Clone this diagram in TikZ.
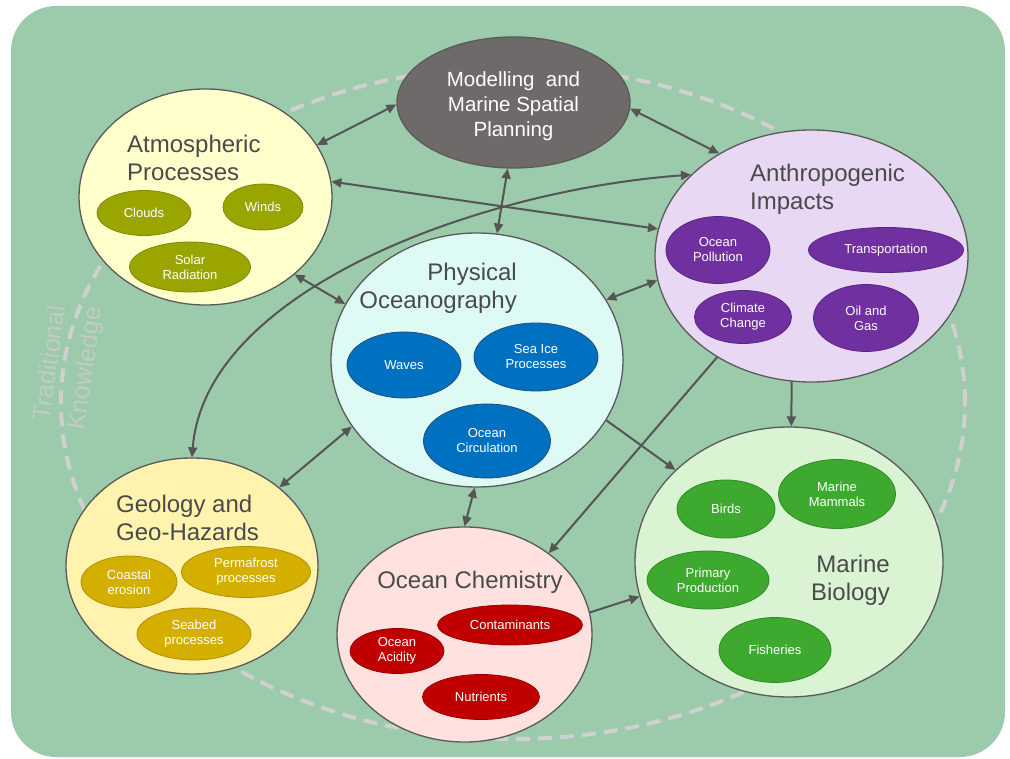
\documentclass[tikz,border=0pt]{standalone}
\usepackage{fontspec}
\setmainfont{Liberation Sans}
\usetikzlibrary{arrows.meta,shapes.geometric}

\definecolor{bggreen}{HTML}{9BCBAB}
\definecolor{dashgray}{HTML}{D0D0D0}
\definecolor{tkgray}{HTML}{C2CBC4}
\definecolor{linegray}{HTML}{5A5A5A}
\definecolor{linkgray}{HTML}{555555}
\definecolor{titlegray}{HTML}{4A4A4A}
\definecolor{modelfill}{HTML}{6F6A6A}
\definecolor{atmofill}{HTML}{FFFFCC}
\definecolor{anthrofill}{HTML}{E8D8F3}
\definecolor{physfill}{HTML}{DDFBF4}
\definecolor{geofill}{HTML}{FFF3AE}
\definecolor{chemfill}{HTML}{FFE2E0}
\definecolor{biofill}{HTML}{D9F3D3}
\definecolor{olivefill}{HTML}{9AA500}
\definecolor{olivedraw}{HTML}{7F8900}
\definecolor{purplefill}{HTML}{7030A0}
\definecolor{purpledraw}{HTML}{5B2585}
\definecolor{bluefill}{HTML}{0070C0}
\definecolor{bluedraw}{HTML}{1F4E79}
\definecolor{goldfill}{HTML}{D4AF00}
\definecolor{golddraw}{HTML}{B09000}
\definecolor{redfill}{HTML}{C00000}
\definecolor{reddraw}{HTML}{9A0000}
\definecolor{greenfill}{HTML}{3DAA2F}
\definecolor{greendraw}{HTML}{2F8A24}

\begin{document}
\begin{tikzpicture}[
  x=1pt, y=-1pt,
  >={Triangle[length=10pt,width=9pt]},
  topic/.style={ellipse, draw=linegray, line width=1.3pt, inner sep=0pt},
  heading/.style={inner sep=0pt, text=titlegray, font=\fontsize{24}{27.5}\selectfont},
  item/.style={ellipse, inner sep=0pt, line width=0.8pt, text=white, align=center,
    font=\fontsize{13}{15}\selectfont},
  olivebox/.style={item, fill=olivefill, draw=olivedraw},
  purplebox/.style={item, fill=purplefill, draw=purpledraw},
  bluebox/.style={item, fill=bluefill, draw=bluedraw},
  goldbox/.style={item, fill=goldfill, draw=golddraw},
  redbox/.style={item, fill=redfill, draw=reddraw},
  greenbox/.style={item, fill=greenfill, draw=greendraw},
  link/.style={draw=linkgray, line width=2pt}
  ]

\useasboundingbox (0,0) rectangle (1010,759);
\fill[white] (0,0) rectangle (1010,759);
\fill[bggreen, rounded corners=45pt] (11,6) rectangle (1005,757);

% traditional knowledge ring
\draw[dashgray, line width=4pt, dash pattern=on 14pt off 8pt]
  (513,403) ellipse [x radius=452pt, y radius=336pt];
\node[text=tkgray, align=center, rotate=82, inner sep=0pt,
  font=\fontsize{25}{36}\selectfont] (tk) at (69,366) {Traditional\\Knowledge};

% main topics
\node[topic, fill=modelfill, minimum width=233pt, minimum height=131pt] (model) at (513.5,102.5) {};
\node[topic, fill=atmofill, minimum width=253pt, minimum height=216pt] (atmo) at (205.5,197) {};
\node[topic, fill=anthrofill, minimum width=313pt, minimum height=252pt] (anthro) at (811.5,256) {};
\node[topic, fill=physfill, minimum width=292pt, minimum height=254pt] (phys) at (477,360) {};
\node[topic, fill=geofill, minimum width=252pt, minimum height=216pt] (geo) at (192,566) {};
\node[topic, fill=chemfill, minimum width=255pt, minimum height=215pt] (chem) at (464.5,634.5) {};
\node[topic, fill=biofill, minimum width=308pt, minimum height=270pt] (bio) at (789,562) {};

% headings
\node[inner sep=0pt, text=white, align=center, font=\fontsize{20.5}{25}\selectfont]
  (modelT) at (513.5,106.5) {Modelling\ \ and\\Marine Spatial\\Planning};
\node[heading, anchor=west, align=left] (atmoT) at (127,158) {Atmospheric\\Processes};
\node[heading, anchor=west, align=left] (anthroT) at (750,189.5) {Anthropogenic\\Impacts};
\node[heading, anchor=east, align=right] (physT) at (517,288.5) {Physical\\Oceanography};
\node[heading, anchor=west, align=left] (geoT) at (116,518) {Geology and\\Geo-Hazards};
\node[heading] (chemT) at (470,582) {Ocean Chemistry};
\node[heading, anchor=east, align=right] (bioT) at (890,580.5) {Marine\\Biology};

% atmosphere
\node[olivebox, minimum width=94pt, minimum height=45pt] (clouds) at (144,213) {Clouds};
\node[olivebox, minimum width=80pt, minimum height=46pt] (winds) at (263,207) {Winds};
\node[olivebox, minimum width=121pt, minimum height=50pt] (solar) at (190,267) {Solar\\Radiation};

% human impacts
\node[purplebox, minimum width=104pt, minimum height=67pt] (pollution) at (718,250) {Ocean\\Pollution};
\node[purplebox, minimum width=155pt, minimum height=45pt] (transport) at (886,250) {Transportation};
\node[purplebox, minimum width=97pt, minimum height=53pt] (climate) at (743,317) {Climate\\Change};
\node[purplebox, minimum width=105pt, minimum height=67pt] (oilgas) at (866,318) {Oil and\\Gas};

% physics
\node[bluebox, minimum width=114pt, minimum height=66pt] (waves) at (404,365) {Waves};
\node[bluebox, minimum width=124pt, minimum height=68pt] (seaice) at (536,357) {Sea Ice\\Processes};
\node[bluebox, minimum width=127pt, minimum height=74pt] (circulation) at (487,441) {Ocean\\Circulation};

% geology
\node[goldbox, minimum width=96pt, minimum height=52pt] (coastal) at (129,582) {Coastal\\erosion};
\node[goldbox, minimum width=129pt, minimum height=51pt] (permafrost) at (246,572) {Permafrost\\processes};
\node[goldbox, minimum width=114pt, minimum height=52pt] (seabed) at (194,634) {Seabed\\processes};

% chemistry
\node[redbox, minimum width=94pt, minimum height=45pt] (acidity) at (397,651) {Ocean\\Acidity};
\node[redbox, minimum width=145pt, minimum height=40pt] (contaminants) at (510,625) {Contaminants};
\node[redbox, minimum width=117pt, minimum height=45pt] (nutrients) at (481,697) {Nutrients};

% biology
\node[greenbox, minimum width=98pt, minimum height=58pt] (birds) at (726,509) {Birds};
\node[greenbox, minimum width=117pt, minimum height=69pt] (mammals) at (837,494) {Marine\\Mammals};
\node[greenbox, minimum width=122pt, minimum height=58pt] (primary) at (708,580) {Primary\\Production};
\node[greenbox, minimum width=112pt, minimum height=65pt] (fisheries) at (775,650) {Fisheries};

% links
\draw[link, <->] (atmo.25) -- (model.181);
\draw[link, <->] (model.-3) -- (anthro.132);
\draw[link, <->] (model.265) -- (phys.81);
\draw[link, <->] (atmo.7) -- (anthro.170);
\draw[link, <->] (geo.90) .. controls (205,290) and (480,190) .. (anthro.146);
\draw[link, <->] (atmo.-41) -- (phys.157);
\draw[link, <->] (phys.25) -- (anthro.189);
\draw[link, <->] (phys.208) -- (geo.42);
\draw[link, <->] (phys.269) -- (chem.90);
\draw[link, ->] (phys.-25) -- (bio.141);
\draw[link, ->] (anthro.227) -- (chem.44);
\draw[link, ->] (anthro.261) -- (bio.89);
\draw[link, ->] (chem.10) -- (bio.193);

\end{tikzpicture}
\end{document}
